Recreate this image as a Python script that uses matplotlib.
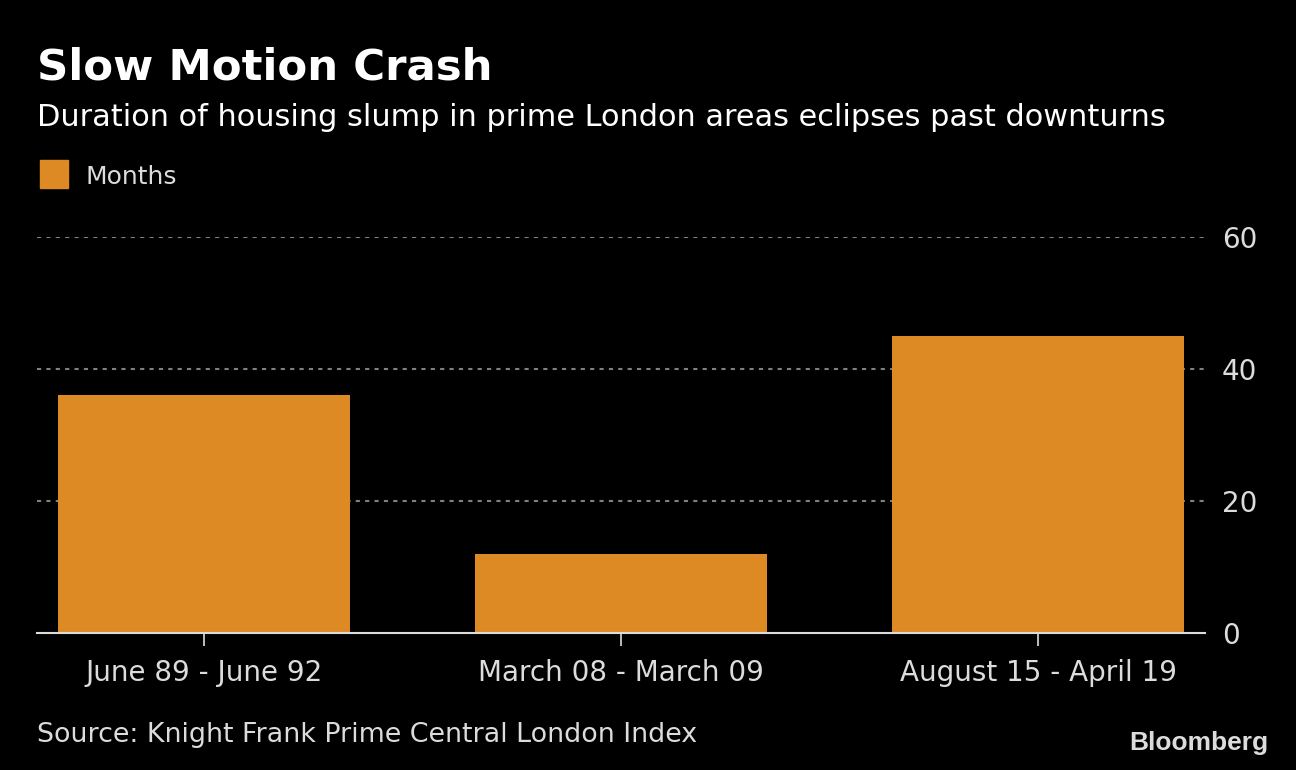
import matplotlib
matplotlib.use('Agg')
import matplotlib.pyplot as plt
from matplotlib.patches import Rectangle

periods = ["June 89 - June 92", "March 08 - March 09", "August 15 - April 19"]
months = [36, 12, 45]
yticks = [0, 20, 40, 60]

BAR = "#dd8a25"
TXT = "#dcdcdc"

plt.rcParams['font.family'] = ['DejaVu Sans']

fig = plt.figure(figsize=(12.96, 7.70), dpi=100, facecolor="black")
ax = fig.add_axes([37/1296, 1 - 633/770, (1205 - 37)/1296, (633 - 237)/770])
ax.set_facecolor("black")

x = list(range(len(periods)))
ax.bar(x, months, width=0.7, color=BAR, zorder=3)
ax.set_xlim(-0.4, 2.4)
ax.set_ylim(0, 60)

ax.set_yticks(yticks)
ax.yaxis.tick_right()
ax.tick_params(axis='y', length=0, pad=12, labelsize=20, labelcolor=TXT)
# dotted gridlines behind the bars
for t in yticks[1:]:
    ax.axhline(t, color="#808080", lw=1.5, ls=(0, (2, 2.5)), zorder=1)

ax.set_xticks(x)
ax.set_xticklabels(periods, fontsize=20, color=TXT)
ax.tick_params(axis='x', length=9, width=1.2, color=TXT, pad=10)
for s in ["top", "right", "left"]:
    ax.spines[s].set_visible(False)
ax.spines["bottom"].set_color(TXT)
ax.spines["bottom"].set_linewidth(1.5)
ax.spines["bottom"].set_zorder(4)

fig.text(37/1296, 1 - 80/770, "Slow Motion Crash", fontsize=31.3, fontweight='bold',
         color="white")
fig.text(37/1296, 1 - 126/770, "Duration of housing slump in prime London areas eclipses past downturns",
         fontsize=21.9, color="white")
fig.patches.append(Rectangle((40/1296, 1 - 188/770), 28/1296, 28/770,
                             transform=fig.transFigure, color=BAR))
fig.text(85/1296, 1 - 184/770, "Months", fontsize=18, color=TXT)
fig.text(37/1296, 1 - 742/770, "Source: Knight Frank Prime Central London Index",
         fontsize=19.4, color=TXT)
fig.text(1268/1296, 1 - 750/770, "Bloomberg", fontsize=19, fontweight='bold',
         color=TXT, ha='right', family=['Liberation Sans', 'DejaVu Sans'])

fig.savefig("out.png", dpi=100, facecolor="black")
